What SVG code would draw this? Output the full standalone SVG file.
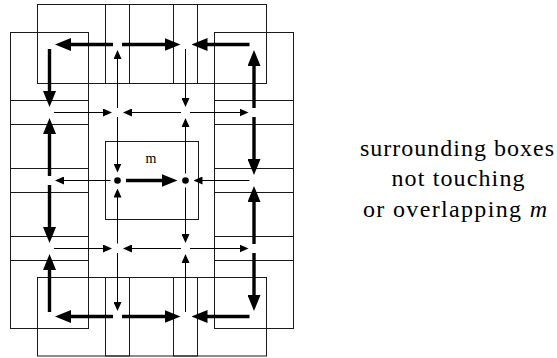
<svg xmlns="http://www.w3.org/2000/svg" width="557" height="358" viewBox="0 0 557 358">
<style>
.box{fill:none;stroke:#1a1a1a;stroke-width:1}
.thick{stroke:#000;stroke-width:3.4;fill:none;marker-end:url(#bigHead)}
.thin{stroke:#000;stroke-width:1;fill:none;marker-end:url(#smallHead)}
.lbl{font-family:'Times New Roman',Times,'Liberation Serif','Noto Serif','DejaVu Serif',serif;fill:#000}
</style>
<defs>
<marker id="bigHead" markerUnits="userSpaceOnUse" markerWidth="16" markerHeight="13" refX="6" refY="6.5" orient="auto" viewBox="0 0 16 13">
<path d="M0,0 L16,6.5 L0,13 z" fill="#000"/>
</marker>
<marker id="smallHead" markerUnits="userSpaceOnUse" markerWidth="9" markerHeight="8" refX="4" refY="4" orient="auto" viewBox="0 0 9 8">
<path d="M0,0 L9,4 L0,8 z" fill="#000"/>
</marker>
</defs>
<rect width="557" height="358" fill="#fff"/>

<g id="box-top">
<rect class="box" x="37.5" y="4.5" width="229" height="79"/>
</g>
<g id="box-top-narrow-left"><rect class="box" x="105.5" y="4.5" width="24" height="79"/></g>
<g id="box-top-narrow-right"><rect class="box" x="173.5" y="4.5" width="24" height="79"/></g>
<g id="box-bottom">
<rect class="box" x="37.5" y="277.5" width="229" height="78.5"/>
</g>
<g id="box-bottom-narrow-left"><rect class="box" x="105.5" y="277.5" width="24" height="78.5"/></g>
<g id="box-bottom-narrow-right"><rect class="box" x="173.5" y="277.5" width="24" height="78.5"/></g>
<g id="box-left">
<rect class="box" x="10.5" y="32.5" width="78" height="296"/>
</g>
<g id="box-right">
<rect class="box" x="214.5" y="32.5" width="79" height="296"/>
</g>
<g id="strip-left-1"><rect class="box" x="10.5" y="100.5" width="78" height="24"/></g>
<g id="strip-left-2"><rect class="box" x="10.5" y="168.5" width="78" height="24"/></g>
<g id="strip-left-3"><rect class="box" x="10.5" y="236.5" width="78" height="24"/></g>
<g id="strip-right-1"><rect class="box" x="214.5" y="100.5" width="79" height="24"/></g>
<g id="strip-right-2"><rect class="box" x="214.5" y="168.5" width="79" height="24"/></g>
<g id="strip-right-3"><rect class="box" x="214.5" y="236.5" width="79" height="24"/></g>
<g id="box-m">
<rect class="box" x="105.5" y="141.5" width="93" height="78"/>
<text class="lbl" x="151" y="163" font-size="14" text-anchor="middle">m</text>
</g>
<g id="point-a"><circle cx="117.5" cy="180.5" r="3.3" fill="#000"/></g>
<g id="point-b"><circle cx="185.5" cy="180.5" r="3.3" fill="#000"/></g>

<g id="connectors">
<line class="thick" x1="113" y1="44.5" x2="65" y2="44.5"/>
<line class="thick" x1="122" y1="44.5" x2="170.5" y2="44.5"/>
<line class="thick" x1="249.5" y1="44.5" x2="201.5" y2="44.5"/>
<line class="thick" x1="113" y1="316.5" x2="65" y2="316.5"/>
<line class="thick" x1="122" y1="316.5" x2="170.5" y2="316.5"/>
<line class="thick" x1="249.5" y1="316.5" x2="201.5" y2="316.5"/>
<line class="thick" x1="49.5" y1="49" x2="49.5" y2="97"/>
<line class="thick" x1="49.5" y1="176" x2="49.5" y2="128"/>
<line class="thick" x1="49.5" y1="185" x2="49.5" y2="233"/>
<line class="thick" x1="49.5" y1="312" x2="49.5" y2="264"/>
<line class="thick" x1="254" y1="108" x2="254" y2="60"/>
<line class="thick" x1="254" y1="117" x2="254" y2="165"/>
<line class="thick" x1="254" y1="244" x2="254" y2="196"/>
<line class="thick" x1="254" y1="253" x2="254" y2="301"/>
<line class="thick" x1="126" y1="180.5" x2="167.5" y2="180.5"/>
<line class="thin" x1="117.5" y1="108" x2="117.5" y2="55"/>
<line class="thin" x1="117.5" y1="117" x2="117.5" y2="167.5"/>
<line class="thin" x1="117.5" y1="243.5" x2="117.5" y2="193.5"/>
<line class="thin" x1="117.5" y1="253" x2="117.5" y2="306"/>
<line class="thin" x1="185.5" y1="49" x2="185.5" y2="102"/>
<line class="thin" x1="185.5" y1="173.5" x2="185.5" y2="123"/>
<line class="thin" x1="185.5" y1="187.5" x2="185.5" y2="238"/>
<line class="thin" x1="185.5" y1="312" x2="185.5" y2="259"/>
<line class="thin" x1="54" y1="112.5" x2="107" y2="112.5"/>
<line class="thin" x1="181" y1="112.5" x2="128" y2="112.5"/>
<line class="thin" x1="190" y1="112.5" x2="243.5" y2="112.5"/>
<line class="thin" x1="54" y1="248.5" x2="107" y2="248.5"/>
<line class="thin" x1="181" y1="248.5" x2="128" y2="248.5"/>
<line class="thin" x1="190" y1="248.5" x2="243.5" y2="248.5"/>
<line class="thin" x1="110.5" y1="180.5" x2="60" y2="180.5"/>
<line class="thin" x1="249.5" y1="180.5" x2="198.5" y2="180.5"/>
</g>

<g id="caption">
<text class="lbl" x="457" y="156" font-size="24" text-anchor="middle" textLength="194" lengthAdjust="spacing">surrounding boxes</text>
<text class="lbl" x="458" y="186" font-size="24" text-anchor="middle" textLength="133" lengthAdjust="spacing">not touching</text>
<text class="lbl" x="455" y="217" font-size="24" text-anchor="middle" textLength="184" lengthAdjust="spacing">or overlapping <tspan font-style="italic">m</tspan></text>
</g>
</svg>
